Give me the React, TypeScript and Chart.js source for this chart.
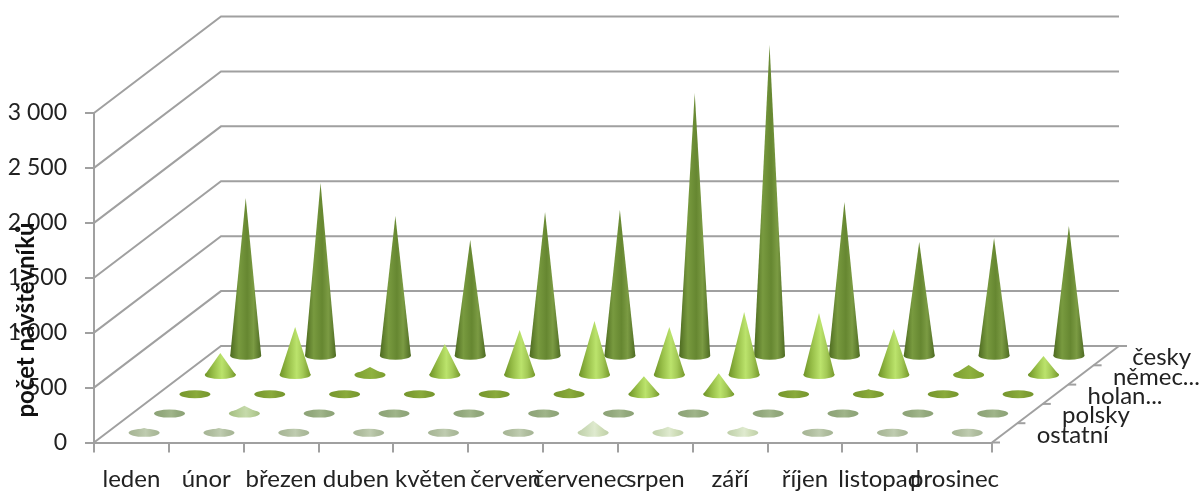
import React, { useEffect, useRef } from "react";
import Chart from "chart.js/auto";

const months = ["leden", "únor", "březen", "duben", "květen", "červen", "červenec", "srpen", "září", "říjen", "listopad", "prosinec"];
const seriesNames = ["česky", "němec...", "holan...", "polsky", "ostatní"];
const cesky = [1435, 1572, 1271, 1053, 1308, 1326, 2392, 2829, 1399, 1035, 1071, 1180];
const nemecky = [200, 437, 73, 282, 410, 492, 437, 574, 565, 419, 91, 173];
const holandsky = [8, 35, 8, 8, 8, 55, 164, 191, 8, 45, 8, 8];
const polsky = [8, 70, 8, 8, 8, 8, 8, 8, 8, 8, 8, 8];
const ostatni = [45, 45, 8, 8, 12, 18, 110, 55, 55, 10, 10, 30];
const yTickStep = 500;
const yMax = 3000;
const axisTitle = "počet návštěvníků";

const FONT = "Lato, 'Open Sans', sans-serif";
const GRID = "#a0a0a0";
const INK = "#222222";
const LINE = 2;
const DX = 127;
const DY = -96.5;
const RX = 15.5;
const RY = 4;
const depths = [0.9, 0.7, 0.5, 0.3, 0.1];
const flatBelow = [0, 12, 7, 4.5, 5.5];

const tall = [
  ["#4d6a20", "#789a3f", "#668731", "#7b9b43", "#4e6b23"],
  ["#6e9327", "#98bf49", "#bbe36c", "#a3c956", "#76992c"],
  ["#6e9327", "#98bf49", "#bbe36c", "#a3c956", "#76992c"],
  ["#a3bd80", "#b5cd95", "#c6daab", "#b9d09a", "#a5bd84"],
  ["#bfcfa9", "#cddcba", "#dfeacf", "#d0deb9", "#bfcfa9"],
];
const flat = [
  ["#5c7a2c", "#5c7a2c", "#5c7a2c", "#5c7a2c", "#5c7a2c"],
  ["#7b9e2e", "#86a838", "#8fb23f", "#86a838", "#7b9e2e"],
  ["#75962c", "#7f9f34", "#8aab3c", "#7f9f34", "#75962c"],
  ["#8ca276", "#93a97d", "#a0b58a", "#93a97d", "#8ca276"],
  ["#a5b494", "#b0be9f", "#bfccb0", "#b0be9f", "#a5b494"],
];

const scenePlugin = {
  id: "scene3d",
  beforeDatasetsDraw(chart: any) {
    const { ctx, scales } = chart;
    const x = scales.x;
    const y = scales.y;
    const left = x.left;
    const right = x.right;
    ctx.save();
    ctx.strokeStyle = GRID;
    ctx.lineWidth = LINE;
    ctx.lineJoin = "miter";
    y.ticks.forEach((t: any) => {
      const py = y.getPixelForValue(t.value);
      ctx.beginPath();
      ctx.moveTo(left, py);
      ctx.lineTo(left + DX, py + DY);
      ctx.lineTo(right + DX, py + DY);
      ctx.stroke();
    });
    const y0 = y.getPixelForValue(0);
    ctx.beginPath();
    ctx.moveTo(right, y0);
    ctx.lineTo(right + DX, y0 + DY);
    ctx.stroke();
    [0, 0.2, 0.4, 0.6, 0.8, 1].forEach((d) => {
      ctx.beginPath();
      ctx.moveTo(right + DX * d, y0 + DY * d);
      ctx.lineTo(right + DX * d + 8, y0 + DY * d);
      ctx.stroke();
    });
    ctx.restore();
  },
  afterDatasetsDraw(chart: any) {
    const { ctx, scales } = chart;
    const x = scales.x;
    const y = scales.y;
    const y0 = y.getPixelForValue(0);
    ctx.save();
    chart.data.datasets.forEach((_: any, s: number) => {
      const d = depths[s];
      chart.getDatasetMeta(s).data.forEach((pt: any) => {
        const cx = pt.x + DX * d;
        const by = y0 + DY * d;
        const ty = pt.y + DY * d;
        const stops = by - ty < flatBelow[s] ? flat[s] : tall[s];
        const g = ctx.createLinearGradient(cx - RX, 0, cx + RX, 0);
        [0, 0.28, 0.55, 0.75, 1].forEach((p, i) => g.addColorStop(p, stops[i]));
        ctx.fillStyle = g;
        ctx.beginPath();
        ctx.ellipse(cx, by, RX, RY, 0, 0, Math.PI * 2);
        ctx.fill();
        if (by - ty > RY) {
          ctx.beginPath();
          ctx.moveTo(cx - RX, by);
          ctx.lineTo(cx, ty);
          ctx.lineTo(cx + RX, by);
          ctx.closePath();
          ctx.fill();
        }
      });
    });
    ctx.fillStyle = INK;
    ctx.font = `24px ${FONT}`;
    ctx.textAlign = "left";
    ctx.textBaseline = "middle";
    seriesNames.forEach((name, s) => {
      const d = depths[s];
      const inset = s === 0 ? 26 : 32;
      ctx.fillText(name, x.right + DX * d + inset, y0 + DY * d + 2);
    });
    ctx.translate(26, 320);
    ctx.rotate(-Math.PI / 2);
    ctx.textAlign = "center";
    ctx.font = `bold 24px ${FONT}`;
    ctx.fillStyle = "#111111";
    ctx.fillText(axisTitle, 0, 0);
    ctx.restore();
  },
};

export default function App() {
  const ref = useRef<HTMLCanvasElement | null>(null);
  useEffect(() => {
    const values = [cesky, nemecky, holandsky, polsky, ostatni];
    const chart = new Chart(ref.current as HTMLCanvasElement, {
      type: "line",
      data: {
        labels: months,
        datasets: values.map((v, i) => ({
          label: seriesNames[i],
          data: v,
          showLine: false,
          pointRadius: 0,
          pointHoverRadius: 0,
        })),
      },
      options: {
        animation: false,
        responsive: false,
        layout: { padding: { top: 113, right: 211, left: 0, bottom: 0 } },
        plugins: { legend: { display: false }, tooltip: { enabled: false } },
        scales: {
          x: {
            type: "category",
            offset: true,
            afterFit: (s: any) => {
              s.height = 48.5;
            },
            grid: {
              offset: true,
              drawOnChartArea: false,
              drawTicks: true,
              tickLength: 10,
              color: GRID,
              lineWidth: LINE,
            },
            border: { display: true, color: GRID, width: LINE },
            ticks: {
              autoSkip: false,
              maxRotation: 0,
              minRotation: 0,
              padding: 12,
              color: INK,
              font: { family: FONT, size: 24 },
            },
          },
          y: {
            type: "linear",
            min: 0,
            max: yMax,
            afterFit: (s: any) => {
              s.width = 94;
            },
            grid: {
              drawOnChartArea: false,
              drawTicks: true,
              tickLength: 9,
              color: GRID,
              lineWidth: LINE,
            },
            border: { display: true, color: GRID, width: LINE },
            ticks: {
              stepSize: yTickStep,
              padding: 18,
              color: INK,
              font: { family: FONT, size: 23 },
              callback: (v: any) => {
                const n = Number(v);
                return n >= 1000 ? `${Math.floor(n / 1000)} ${String(n % 1000).padStart(3, "0")}` : String(n);
              },
            },
          },
        },
      } as any,
      plugins: [scenePlugin],
    } as any);
    return () => chart.destroy();
  }, []);
  return (
    <div style={{ position: "fixed", left: 0, top: 0, width: 1203, height: 491, background: "#fff" }}>
      <canvas ref={ref} width={1203} height={491} style={{ display: "block" }} />
    </div>
  );
}
